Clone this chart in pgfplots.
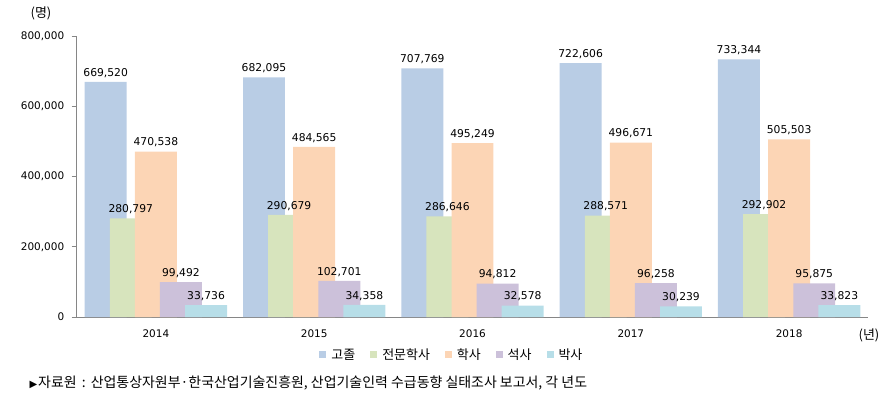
\documentclass[border=0pt]{standalone}
\usepackage{fontspec}
\usepackage{pgfplots}
\pgfplotsset{compat=1.18}
\usepackage{pgfplotstable}
\setmainfont{Noto Sans CJK KR}
\newfontfamily\numfont{DejaVu Sans}
\newfontfamily\symfont{DejaVu Sans}
\definecolor{cA}{HTML}{B9CDE5}
\definecolor{cB}{HTML}{D7E4BD}
\definecolor{cC}{HTML}{FCD5B5}
\definecolor{cD}{HTML}{CCC1DA}
\definecolor{cE}{HTML}{B7DEE8}
\definecolor{axgray}{HTML}{868686}
\pgfplotstableread{
x a b c d e
0 669520 280797 470538 99492 33736
1 682095 290679 484565 102701 34358
2 707769 286646 495249 94812 32578
3 722606 288571 496671 96258 30239
4 733344 292902 505503 95875 33823
}\data
\begin{document}
\begin{tikzpicture}[x=1bp,y=1bp]
\path[use as bounding box] (0,0) rectangle (892,406);
\begin{axis}[
  at={(76.7bp,89bp)}, anchor=south west,
  scale only axis, width=791.6bp, height=281bp,
  xmin=-0.5, xmax=4.5, ymin=0, ymax=800000,
  axis x line=bottom, axis y line=left,
  axis line style={-, draw=axgray, line width=0.6bp},
  ybar, bar width=0.265, bar shift=0pt,
  xtick={0,1,2,3,4}, xticklabels={2014,2015,2016,2017,2018},
  x tick label style={font=\numfont\fontsize{10.5}{12}\selectfont, yshift=-4bp},
  major x tick style={draw=none},
  extra x ticks={-0.5,0.5,1.5,2.5,3.5,4.5},
  extra x tick labels={},
  extra x tick style={major tick length=5bp, tick align=outside, tick style={draw=axgray, line width=0.6bp}},
  ytick={0,200000,400000,600000,800000},
  scaled y ticks=false,
  y tick label style={font=\numfont\fontsize{10.5}{12}\selectfont, xshift=-4bp},
  ytick style={draw=axgray, line width=0.6bp},
  tick align=outside, major tick length=5bp,
  /pgf/number format/.cd, fixed, precision=0, 1000 sep={,}, assume math mode=true,
  /pgfplots/.cd,
  nodes near coords,
  every node near coord/.append style={font=\numfont\fontsize{10.8}{12}\selectfont, text=black, yshift=1bp},
  legend style={at={(0.474,-0.135)}, anchor=center, draw=none, font=\fontsize{13}{15}\selectfont,
    /tikz/every odd column/.append style={column sep=3bp},
    /tikz/every even column/.append style={column sep=13bp}},
  legend columns=-1,
  legend image code/.code={\fill[#1,draw=none] (0bp,-3.5bp) rectangle (7bp,3.5bp);},
  clip=false,
]
\addplot[fill=cA, draw=none] table[x expr=\thisrow{x}-0.317, y=a] {\data};
\addplot[fill=cB, draw=none] table[x expr=\thisrow{x}-0.1585, y=b] {\data};
\addplot[fill=cC, draw=none] table[x expr=\thisrow{x}, y=c] {\data};
\addplot[fill=cD, draw=none] table[x expr=\thisrow{x}+0.1585, y=d] {\data};
\addplot[fill=cE, draw=none] table[x expr=\thisrow{x}+0.317, y=e] {\data};
\legend{고졸,전문학사,학사,석사,박사}
\end{axis}
\node[anchor=center, font=\fontsize{13}{15}\selectfont] at (41,393) {(명)};
\node[anchor=center, font=\fontsize{13}{15}\selectfont] at (869,71) {(년)};
\node[anchor=west, font=\fontsize{14}{16}\selectfont] at (26,23) {{\symfont\fontsize{10}{10}\selectfont ▶}\hspace{1bp}자료원\hspace{2bp} : \hspace{1bp}산업통상자원부·한국산업기술진흥원, 산업기술인력 수급동향 실태조사 보고서, 각 년도};
\end{tikzpicture}
\end{document}
